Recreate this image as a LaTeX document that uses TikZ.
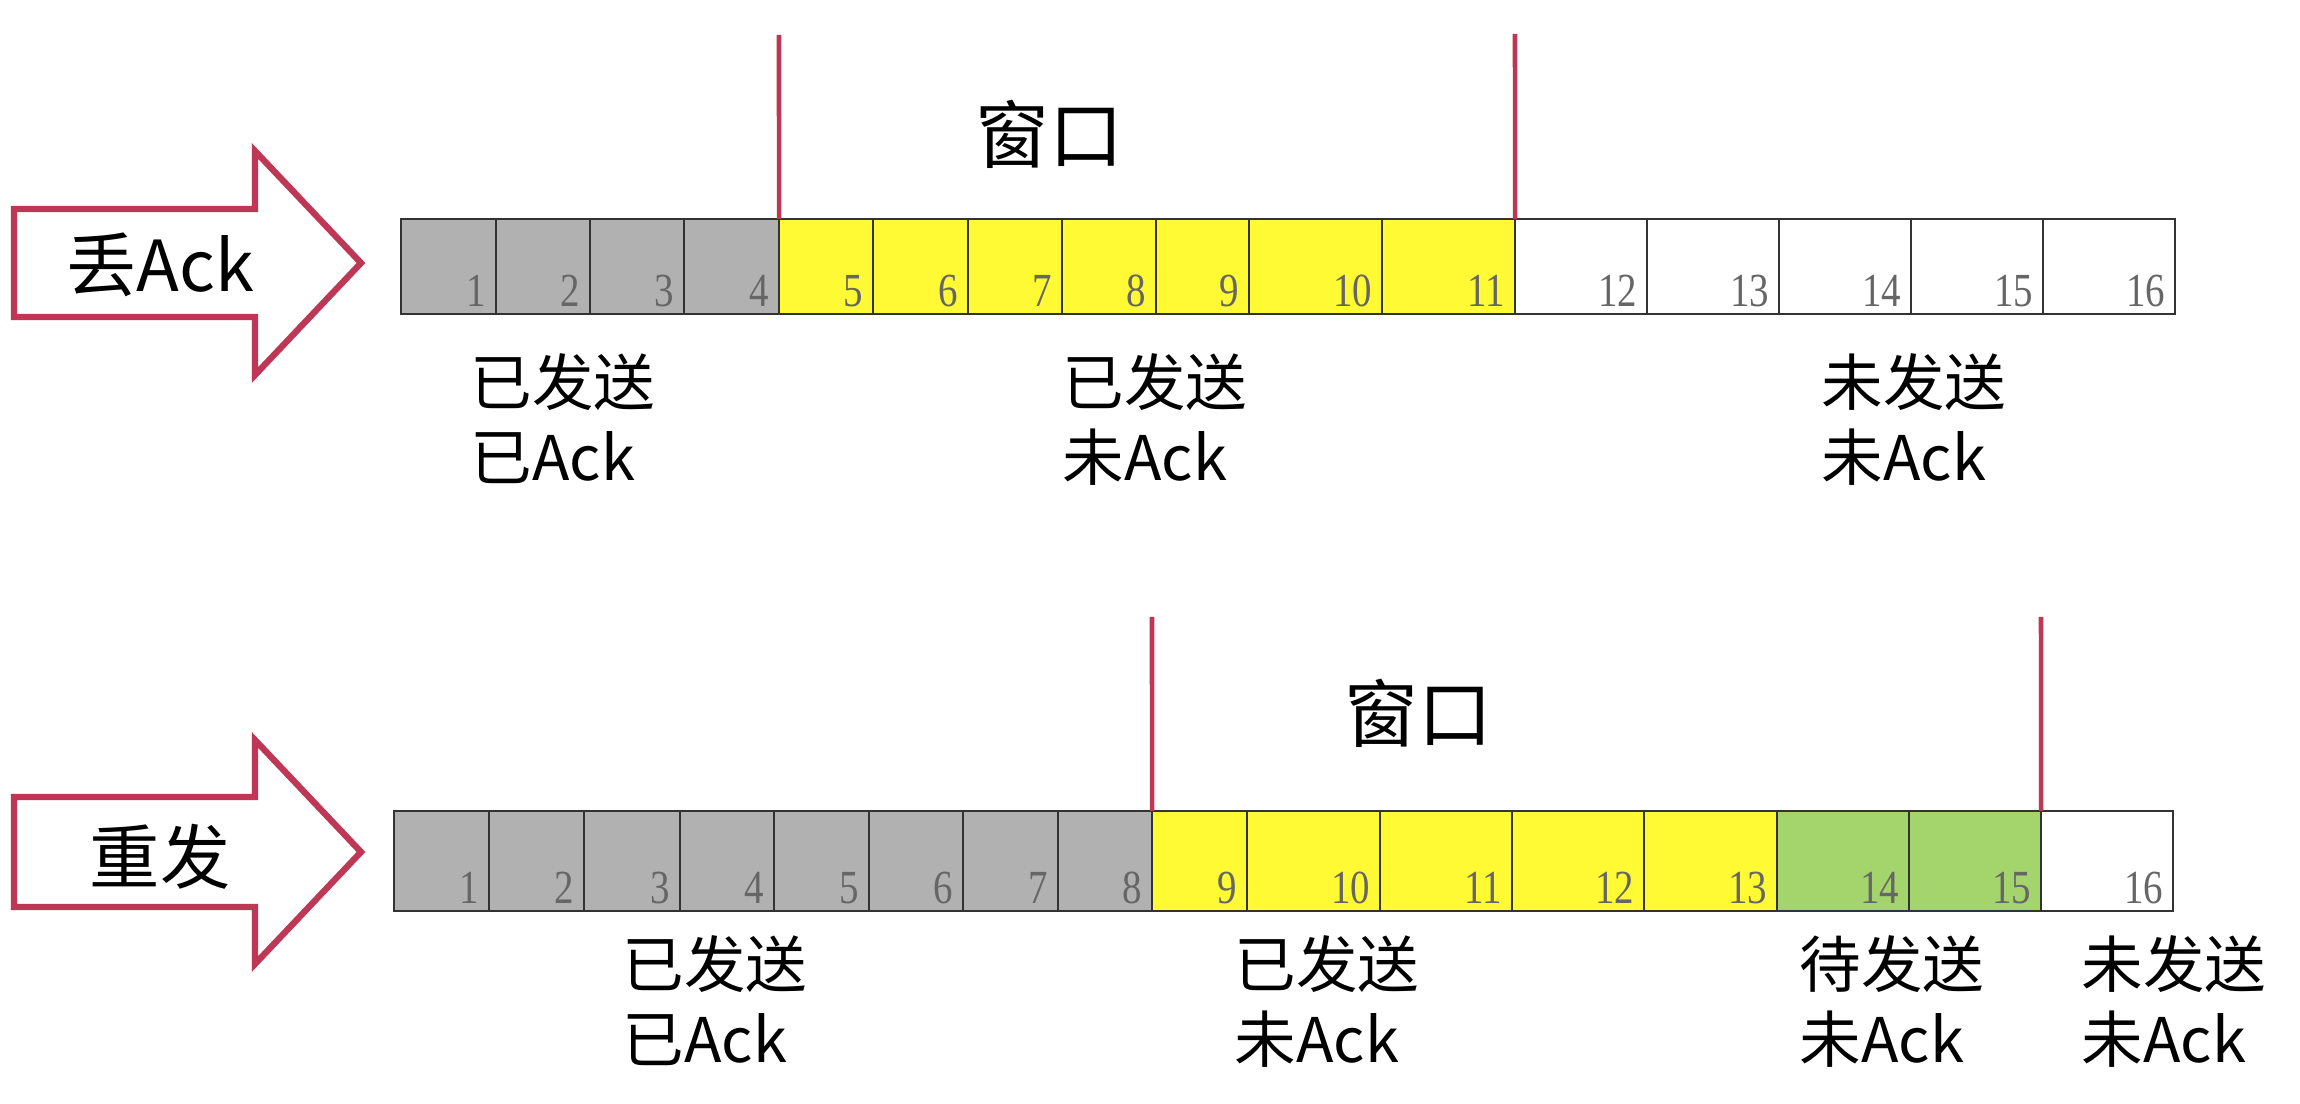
\documentclass[tikz,border=0pt]{standalone}
\usepackage{fontspec}
\setmainfont{Noto Sans CJK SC}
\newfontfamily\numfont[FakeStretch=0.82]{Liberation Serif}
\definecolor{cgray}{HTML}{B1B1B1}
\definecolor{cyellow}{HTML}{FFFA33}
\definecolor{cgreen}{HTML}{A4D46C}
\definecolor{cwhite}{HTML}{FFFFFF}
\definecolor{cred}{HTML}{BE3755}
\definecolor{cnum}{HTML}{666666}
\definecolor{cborder}{HTML}{333333}
\tikzset{
  cellbox/.style={draw=cborder, line width=0.7pt, inner sep=0pt, outer sep=0pt, anchor=north west},
  numtext/.style={font=\numfont\fontsize{13.5}{13.5}\selectfont, text=cnum, inner sep=0pt, anchor=base east},
  winline/.style={draw=cred, line width=1.3pt},
  bigarrow/.style={draw=cred, line width=1.8pt, fill=white, line join=miter},
  arrowtext/.style={font=\fontsize{20}{22}\selectfont, inner sep=0pt},
  wintext/.style={font=\fontsize{21}{24}\selectfont, inner sep=0pt},
  labeltext/.style={font=\fontsize{17.5}{21.3}\selectfont, align=left, inner sep=0pt, anchor=north west},
}
\begin{document}
\begin{tikzpicture}[x=0.01cm, y=-0.01cm]
\useasboundingbox (0,0) rectangle (2300,1104);
\fill[white] (0,0) rectangle (2300,1104);

% ---------- top row ----------
\draw[bigarrow] (14,209) -- (255,209) -- (255,151) -- (361,263) -- (255,375) -- (255,317) -- (14,317) -- cycle;
\node[arrowtext] (ta) at (160,265) {丢Ack};

\foreach \i/\xa/\xb/\c in {1/401/496/cgray,2/496/590/cgray,3/590/684/cgray,4/684/779/cgray,
  5/779/873/cyellow,6/873/968/cyellow,7/968/1062/cyellow,8/1062/1156/cyellow,9/1156/1249/cyellow,
  10/1249/1382/cyellow,11/1382/1515/cyellow,12/1515/1647/cwhite,13/1647/1779/cwhite,
  14/1779/1911/cwhite,15/1911/2043/cwhite,16/2043/2175/cwhite}{
  \node[cellbox, fill=\c, minimum width={(\xb-\xa)*0.284528pt}, minimum height={95*0.284528pt}] (t\i) at (\xa,219) {};
  \node[numtext] (tn\i) at ([xshift=-2.6pt, yshift=2.2pt]t\i.south east) {\i};
}
\coordinate (tw1) at (779,35);
\coordinate (tw2) at (1515,34);
\draw[winline] (tw1) -- (t4.north east);
\draw[winline] (tw2) -- (t11.north east);
\node[wintext] (tw) at (1049,134) {窗口};

\node[labeltext] (tl1) at (470,353) {已发送\\已Ack};
\node[labeltext] (tl2) at (1062,353) {已发送\\未Ack};
\node[labeltext] (tl3) at (1821,353) {未发送\\未Ack};

% ---------- bottom row ----------
\draw[bigarrow] (14,797) -- (255,797) -- (255,740) -- (361,852) -- (255,964) -- (255,907) -- (14,907) -- cycle;
\node[arrowtext] (ba) at (160,857) {重发};

\foreach \i/\xa/\xb/\c in {1/394/489/cgray,2/489/584/cgray,3/584/680/cgray,4/680/774/cgray,
  5/774/869/cgray,6/869/963/cgray,7/963/1058/cgray,8/1058/1152/cgray,9/1152/1247/cyellow,
  10/1247/1380/cyellow,11/1380/1512/cyellow,12/1512/1644/cyellow,13/1644/1777/cyellow,
  14/1777/1909/cgreen,15/1909/2041/cgreen,16/2041/2173/cwhite}{
  \node[cellbox, fill=\c, minimum width={(\xb-\xa)*0.284528pt}, minimum height={100*0.284528pt}] (b\i) at (\xa,811) {};
  \node[numtext] (bn\i) at ([xshift=-2.6pt, yshift=2.2pt]b\i.south east) {\i};
}
\coordinate (bw1) at (1152,617);
\coordinate (bw2) at (2041,617);
\draw[winline] (bw1) -- (b8.north east);
\draw[winline] (bw2) -- (b15.north east);
\node[wintext] (bw) at (1418,713) {窗口};

\node[labeltext] (bl1) at (622,935) {已发送\\已Ack};
\node[labeltext] (bl2) at (1234,935) {已发送\\未Ack};
\node[labeltext] (bl3) at (1799,935) {待发送\\未Ack};
\node[labeltext] (bl4) at (2081,935) {未发送\\未Ack};
\end{tikzpicture}
\end{document}
